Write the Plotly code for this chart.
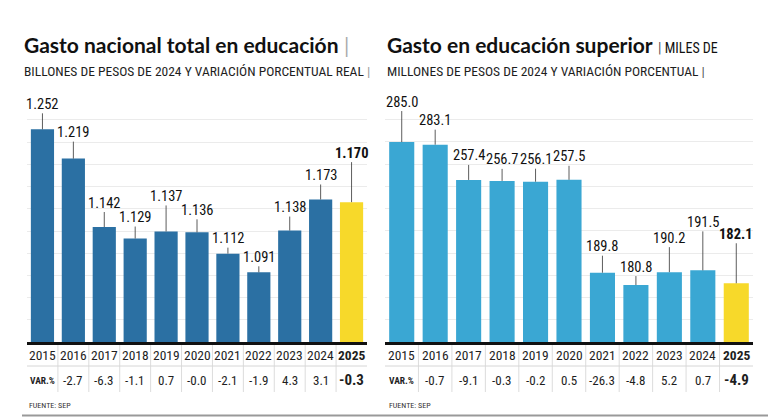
import plotly.graph_objects as go

# ---------------- data ----------------
years = ["2015", "2016", "2017", "2018", "2019", "2020", "2021", "2022", "2023", "2024", "2025"]
gasto_total = [1.252, 1.219, 1.142, 1.129, 1.137, 1.136, 1.112, 1.091, 1.138, 1.173, 1.170]
var_total = [None, -2.7, -6.3, -1.1, 0.7, -0.0, -2.1, -1.9, 4.3, 3.1, -0.3]
gasto_superior = [285.0, 283.1, 257.4, 256.7, 256.1, 257.5, 189.8, 180.8, 190.2, 191.5, 182.1]
var_superior = [None, -0.7, -9.1, -0.3, -0.2, 0.5, -26.3, -4.8, 5.2, 0.7, -4.9]

# label leader offsets (style, pixels)
off_total = [-25, -26, -24, -21, -35, -22, -15, -15, -23, -24, -49]
off_superior = [-40, -24, -24, -21, -22, -23, -26, -18, -34, -48, -49]

W, H = 768, 417
COND = "Roboto Condensed, DejaVu Sans Condensed, Liberation Sans Narrow, Liberation Sans, sans-serif"
BOLD = "Lato, Open Sans, sans-serif"
C_LEFT = "#2b70a3"
C_RIGHT = "#3aa7d3"
C_YEL = "#f7d92a"
TXT = "#1e1e1e"

def py(p):
    return 1 - p / H

def px(p):
    return p / W

idx = list(range(len(years)))

fig = go.Figure()
fig.add_trace(go.Bar(x=idx, y=gasto_total, xaxis="x", yaxis="y",
                     marker=dict(color=[C_LEFT] * 10 + [C_YEL], line=dict(width=0)),
                     hovertext=years, hoverinfo="text+y"))
fig.add_trace(go.Bar(x=idx, y=gasto_superior, xaxis="x2", yaxis="y2",
                     marker=dict(color=[C_RIGHT] * 10 + [C_YEL], line=dict(width=0)),
                     hovertext=years, hoverinfo="text+y"))

ydom = [py(342), py(112)]
axcommon = dict(showticklabels=False, ticks="", showgrid=False, zeroline=False,
                showline=True, linecolor="#111", linewidth=3, range=[-0.5, 10.5],
                fixedrange=True)
ycommon = dict(showticklabels=False, ticks="", showgrid=True, gridcolor="#ebebeb",
               gridwidth=1, zeroline=False, showline=False, fixedrange=True, domain=ydom)

fig.update_layout(
    width=W, height=H, margin=dict(l=0, r=0, t=0, b=0),
    paper_bgcolor="white", plot_bgcolor="white", showlegend=False, bargap=0.25,
    xaxis=dict(domain=[px(27), px(367)], anchor="y", **axcommon),
    yaxis=dict(anchor="x", range=[1.0125, 1.2715], tick0=1.0125, dtick=0.025, **ycommon),
    xaxis2=dict(domain=[px(385), px(753)], anchor="y2", **axcommon),
    yaxis2=dict(anchor="x2", range=[139.3, 306.9], tick0=139.3, dtick=16.2, **ycommon),
)

ann = []
shapes = []

def panel(xr, yr, vals, offs, fmt, vars_):
    n = len(years)
    for i, (yrs, v, o) in enumerate(zip(years, vals, offs)):
        last = i == n - 1
        t = fmt.format(v)
        ann.append(dict(x=i, y=v, xref=xr, yref=yr,
                        text=f"<b>{t}</b>" if last else t,
                        showarrow=True, arrowhead=0, arrowwidth=0.8, arrowcolor="#333",
                        ax=0, ay=o, standoff=0, borderpad=0,
                        font=dict(family=COND, size=14.5, color="#111")))
        ann.append(dict(x=i, y=py(355), xref=xr, yref="paper", yanchor="middle",
                        text=f"<b>{yrs}</b>" if last else yrs, showarrow=False,
                        font=dict(family=COND, size=13.5, color=TXT)))
        if vars_[i] is None:
            vt, fs = "<b>VAR.%</b>", 9.5
        else:
            vt = f"{vars_[i]:.1f}"
            fs = 13
            if last:
                vt, fs = f"<b>{vt}</b>", 15
        ann.append(dict(x=i, y=py(380), xref=xr, yref="paper", yanchor="middle",
                        text=vt, showarrow=False,
                        font=dict(family=COND, size=fs, color=TXT)))
    for i in range(n - 1):
        shapes.append(dict(type="line", xref=xr, yref="paper", x0=i + 0.5, x1=i + 0.5,
                           y0=py(392), y1=py(345), line=dict(color="#dcdcdc", width=1)))
    shapes.append(dict(type="line", xref=f"{xr} domain", yref="paper", x0=0, x1=1,
                       y0=py(366), y1=py(366), line=dict(color="#d6d6d6", width=1)))

panel("x", "y", gasto_total, off_total, "{:.3f}", var_total)
panel("x2", "y2", gasto_superior, off_superior, "{:.1f}", var_superior)

# footers
for xx in (27, 387):
    ann.append(dict(x=px(xx), y=py(405), xref="paper", yref="paper", xanchor="left",
                    yanchor="middle", text="FUENTE: SEP", showarrow=False,
                    font=dict(family=COND, size=8, color="#333")))
shapes.append(dict(type="line", xref="paper", yref="paper", x0=px(22), x1=1,
                   y0=py(415.5), y1=py(415.5), line=dict(color="#999", width=2)))

# titles
ann.append(dict(x=px(22), y=py(44), xref="paper", yref="paper", xanchor="left", yanchor="middle",
                text="<b>Gasto nacional total en educación</b> <span style='color:#aaa'>|</span>",
                showarrow=False, font=dict(family=BOLD, size=21, color="#111")))
ann.append(dict(x=px(22), y=py(71), xref="paper", yref="paper", xanchor="left", yanchor="middle",
                text="BILLONES DE PESOS DE 2024 Y VARIACIÓN PORCENTUAL REAL <span style='color:#999'>|</span>",
                showarrow=False, font=dict(family=COND, size=13.5, color=TXT)))
ann.append(dict(x=px(385), y=py(44), xref="paper", yref="paper", xanchor="left", yanchor="middle",
                text=("<b>Gasto en educación superior</b> "
                      f"<span style='font-family:{COND};font-size:14px;color:#555'>|</span>"
                      f"<span style='font-family:{COND};font-size:14px'> MILES DE</span>"),
                showarrow=False, font=dict(family=BOLD, size=21, color="#111")))
ann.append(dict(x=px(385), y=py(71), xref="paper", yref="paper", xanchor="left", yanchor="middle",
                text="MILLONES DE PESOS DE 2024 Y VARIACIÓN PORCENTUAL <span style='color:#555'>|</span>",
                showarrow=False, font=dict(family=COND, size=13.5, color=TXT)))

fig.update_layout(annotations=ann, shapes=shapes)
fig.write_html("out.html")
